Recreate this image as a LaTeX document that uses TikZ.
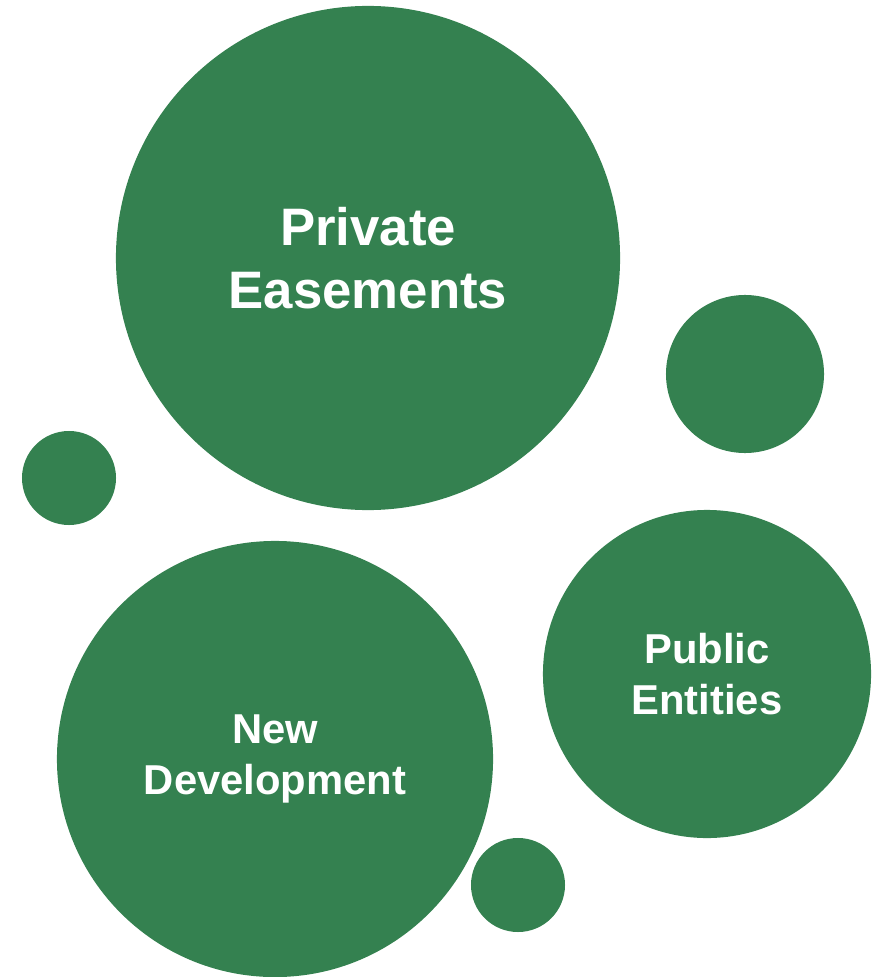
\documentclass[tikz,border=0pt]{standalone}
\usepackage{fontspec}
\setmainfont{Liberation Sans}
\definecolor{bubblegreen}{HTML}{348150}
\tikzstyle{bubble} = [circle, fill=bubblegreen, draw=none,
    inner sep=0pt, text=white, align=center]
\tikzstyle{bigtext} = [font=\fontsize{37.5}{45}\selectfont\bfseries]
\tikzstyle{midtext} = [font=\fontsize{29.7}{36.3}\selectfont\bfseries]

\begin{document}
\begin{tikzpicture}[x=0.025cm, y=-0.025cm]
\useasboundingbox (0,0) rectangle (886,977);
%------------ large bubbles ---------------------
\node [bubble, bigtext, minimum size=12.6cm] (easements) at (368,258)
    {Private\\Easements};
\node [bubble, midtext, minimum size=10.9cm] (development) at (275,759)
    {New\\Development};
\node [bubble, midtext, minimum size=8.2cm] (entities) at (707,674)
    {Public\\Entities};
%------------ small bubbles ---------------------
\node [bubble, minimum size=3.95cm] (dotright) at (745,374) {};
\node [bubble, minimum size=2.35cm] (dotleft) at (69,478) {};
\node [bubble, minimum size=2.35cm] (dotbottom) at (518,885) {};
\end{tikzpicture}
\end{document}
